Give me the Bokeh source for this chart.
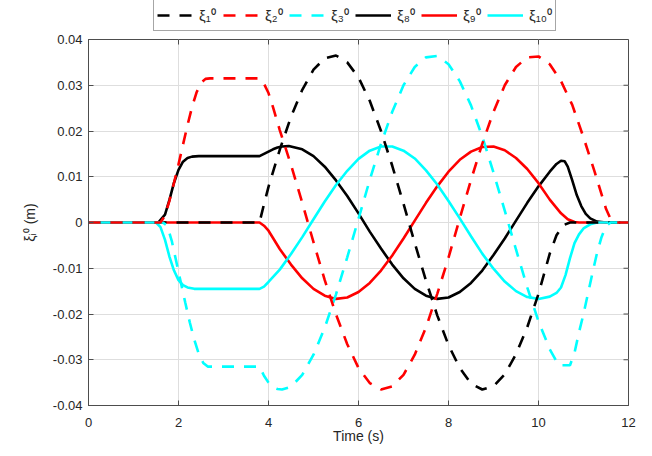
import math
from bokeh.plotting import figure
from bokeh.layouts import column
from bokeh.models import Legend, LegendItem, FixedTicker, Range1d
from bokeh.embed import file_html
from bokeh.resources import INLINE

# ---------------- data ----------------
xi1_t = [0, 3.8, 3.9, 4.0, 4.25, 4.5, 4.75, 5.0, 5.25, 5.5, 5.75, 6.0, 6.25, 6.5, 6.75, 7.0, 7.25, 7.5,
         7.75, 8.0, 8.25, 8.5, 8.75, 9.0, 9.25, 9.5, 9.75, 10.0, 10.25, 10.4, 10.55, 10.7, 12]
xi1_y = [0, 0, 0.0040, 0.0078, 0.0159, 0.0231, 0.0290, 0.0334, 0.0359, 0.0365, 0.0350, 0.0317, 0.0266,
         0.0200, 0.0124, 0.0041, -0.0045, -0.0127, -0.0203, -0.0268, -0.0318, -0.0352, -0.0365, -0.0358,
         -0.0332, -0.0288, -0.0229, -0.0156, -0.0068, -0.0028, -0.0006, 0, 0]

xi2_t = [0, 1.6, 1.7, 1.8, 1.9, 2.0, 2.1, 2.2, 2.3, 2.4, 2.5, 2.6, 2.7, 3.8, 3.9, 4.0, 4.1, 4.25, 4.5,
         4.75, 5.0, 5.25, 5.5, 5.75, 6.0, 6.25, 6.5, 6.75, 7.0, 7.25, 7.5, 7.75, 8.0, 8.25, 8.5, 8.75,
         9.0, 9.25, 9.5, 9.75, 10.0, 10.25, 10.5, 10.75, 11.0, 11.25, 11.5, 11.6, 11.7, 12]
xi2_y = [0, 0, 0.0015, 0.0048, 0.0087, 0.0127, 0.0170, 0.0213, 0.0252, 0.0284, 0.0305, 0.0314, 0.0315,
         0.0315, 0.0303, 0.0283, 0.0252, 0.0202, 0.0126, 0.0043, -0.0043, -0.0126, -0.0201, -0.0266,
         -0.0318, -0.0351, -0.0365, -0.0358, -0.0333, -0.0289, -0.0229, -0.0156, -0.0077, 0.0009,
         0.0093, 0.0172, 0.0242, 0.0300, 0.0340, 0.0361, 0.0363, 0.0346, 0.0309, 0.0257, 0.0186,
         0.0110, 0.0030, 0.0008, 0, 0]

xi3_t = [0, 1.65, 1.75, 1.85, 1.95, 2.05, 2.15, 2.25, 2.35, 2.45, 2.55, 2.65, 3.8, 3.9, 4.0, 4.1, 4.2,
         4.3, 4.5, 4.75, 5.0, 5.25, 5.5, 5.75, 6.0, 6.25, 6.5, 6.75, 7.0, 7.25, 7.5, 7.75, 8.0, 8.25,
         8.5, 8.75, 9.0, 9.25, 9.5, 9.75, 10.0, 10.25, 10.45, 10.7, 10.8, 10.9, 11.0, 11.1, 11.2, 11.3,
         11.4, 11.5, 11.6, 12]
xi3_y = [0, 0, -0.0007, -0.0040, -0.0085, -0.0130, -0.0175, -0.0218, -0.0256, -0.0287, -0.0307, -0.0315,
         -0.0315, -0.0335, -0.0350, -0.0360, -0.0364, -0.0365, -0.0359, -0.0333, -0.0289, -0.0230,
         -0.0157, -0.0076, 0.0008, 0.0093, 0.0172, 0.0242, 0.0300, 0.0340, 0.0361, 0.0364, 0.0346,
         0.0309, 0.0256, 0.0188, 0.0109, 0.0026, -0.0059, -0.0142, -0.0216, -0.0277, -0.0312, -0.0312,
         -0.0285, -0.0240, -0.0200, -0.0155, -0.0110, -0.0067, -0.0032, -0.0008, 0, 0]

xi8_t = [0, 1.55, 1.7, 1.8, 1.9, 2.0, 2.1, 2.2, 2.3, 2.45, 3.8, 3.9, 4.0, 4.1, 4.2, 4.3, 4.45, 4.75,
         5.0, 5.25, 5.5, 5.75, 6.0, 6.25, 6.5, 6.75, 7.0, 7.25, 7.5, 7.75, 8.0, 8.25, 8.5, 8.75, 9.0,
         9.25, 9.5, 9.75, 10.0, 10.25, 10.4, 10.5, 10.58, 10.65, 10.75, 10.85, 10.95, 11.05, 11.15,
         11.3, 11.5, 12]
xi8_y = [0, 0, 0.0017, 0.0050, 0.0087, 0.0115, 0.0133, 0.0141, 0.0144, 0.0145, 0.0145, 0.0150, 0.0155,
         0.0160, 0.0164, 0.0166, 0.0167, 0.0160, 0.0145, 0.0122, 0.0092, 0.0058, 0.0020, -0.0020,
         -0.0057, -0.0092, -0.0122, -0.0145, -0.0160, -0.0167, -0.0164, -0.0152, -0.0132, -0.0105,
         -0.0071, -0.0035, 0.0004, 0.0043, 0.0079, 0.0111, 0.0128, 0.0135, 0.0134, 0.0122, 0.0092,
         0.0060, 0.0036, 0.0019, 0.0009, 0.0002, 0, 0]

xi9_t = [0, 3.8, 3.9, 4.0, 4.1, 4.25, 4.5, 4.75, 5.0, 5.25, 5.5, 5.75, 6.0, 6.25, 6.5, 6.75, 7.0, 7.25,
         7.5, 7.75, 8.0, 8.25, 8.5, 8.75, 9.0, 9.25, 9.5, 9.75, 10.0, 10.25, 10.5, 10.65, 10.8, 10.9, 12]
xi9_y = [0, 0, -0.0007, -0.0018, -0.0034, -0.0058, -0.0092, -0.0122, -0.0145, -0.0160, -0.0167,
         -0.0164, -0.0152, -0.0132, -0.0105, -0.0072, -0.0035, 0.0004, 0.0043, 0.0079, 0.0111, 0.0137,
         0.0155, 0.0165, 0.0166, 0.0158, 0.0141, 0.0117, 0.0086, 0.0050, 0.0020, 0.0007, 0.0001, 0, 0]

xi10_t = [0, 1.5, 1.6, 1.7, 1.8, 1.9, 2.0, 2.1, 2.2, 2.35, 3.8, 3.9, 4.0, 4.25, 4.5, 4.75, 5.0, 5.25,
          5.5, 5.75, 6.0, 6.25, 6.5, 6.75, 7.0, 7.25, 7.5, 7.75, 8.0, 8.25, 8.5, 8.75, 9.0, 9.25, 9.5,
          9.75, 10.0, 10.25, 10.4, 10.5, 10.6, 10.7, 10.8, 10.9, 11.0, 11.15, 11.3, 12]
xi10_y = [0, 0, -0.0010, -0.0038, -0.0075, -0.0105, -0.0126, -0.0137, -0.0142, -0.0145, -0.0145,
          -0.0140, -0.0130, -0.0103, -0.0069, -0.0032, 0.0007, 0.0046, 0.0082, 0.0113, 0.0139, 0.0157,
          0.0166, 0.0166, 0.0157, 0.0140, 0.0114, 0.0083, 0.0047, 0.0009, -0.0030, -0.0068, -0.0101,
          -0.0129, -0.0150, -0.0163, -0.0167, -0.0162, -0.0154, -0.0142, -0.0115, -0.0078, -0.0045,
          -0.0026, -0.0013, -0.0004, 0, 0]

series_labels = ["ξ₁⁰", "ξ₂⁰", "ξ₃⁰", "ξ₈⁰", "ξ₉⁰", "ξ₁₀⁰"]
series_colors = ["black", "#ff0000", "#00ffff", "black", "#ff0000", "#00ffff"]
series_dashed = [True, True, True, False, False, False]
xtick_vals = [0, 2, 4, 6, 8, 10, 12]
xtick_labels = ["0", "2", "4", "6", "8", "10", "12"]
ytick_vals = [-0.04, -0.03, -0.02, -0.01, 0, 0.01, 0.02, 0.03, 0.04]
ytick_labels = ["-0.04", "-0.03", "-0.02", "-0.01", "0", "0.01", "0.02", "0.03", "0.04"]
x_lim = (0, 12)
y_lim = (-0.04, 0.04)
x_title = "Time (s)"
y_title = "ξᵢ⁰ (m)"

# ---------------- styling ----------------
FONT = "Liberation Sans"
AX = "#262626"
FRAME = "#4d4d4d"
LW = 2.6
DASH = "12 10"
W = 652
LEG_H = 32

# ---------------- main figure ----------------
p = figure(width=W, height=456 - LEG_H, output_backend="svg", toolbar_location=None,
           x_range=Range1d(*x_lim), y_range=Range1d(*y_lim),
           min_border_left=88, min_border_right=24, min_border_top=7, min_border_bottom=51)
p.background_fill_color = "white"
p.border_fill_color = "white"
p.outline_line_color = FRAME

xt = FixedTicker(ticks=xtick_vals, minor_ticks=[])
yt = FixedTicker(ticks=ytick_vals, minor_ticks=[])

p.xaxis.ticker = xt
p.yaxis.ticker = yt
p.xaxis.major_label_overrides = dict(zip(xtick_vals, xtick_labels))
p.yaxis.major_label_overrides = dict(zip(ytick_vals, ytick_labels))
for ax in (p.xaxis[0], p.yaxis[0]):
    ax.major_tick_in = 5
    ax.major_tick_out = 0
    ax.minor_tick_line_color = None
    ax.axis_line_color = FRAME
    ax.major_tick_line_color = FRAME
    ax.major_label_text_font = FONT
    ax.major_label_text_font_size = "13px"
    ax.major_label_text_color = AX
    ax.axis_label_text_font = FONT
    ax.axis_label_text_font_size = "14px"
    ax.axis_label_text_font_style = "normal"
    ax.axis_label_text_color = AX
p.xaxis.axis_label = x_title
p.yaxis.axis_label = y_title
p.xaxis.major_label_standoff = 12
p.xaxis.axis_label_standoff = -2
p.yaxis.major_label_standoff = 6
p.yaxis.axis_label_standoff = 12

p.xgrid.ticker = xt
p.ygrid.ticker = yt
p.xgrid.grid_line_color = "#dedede"
p.ygrid.grid_line_color = "#dedede"

# inward tick marks on the top and right edges of the box (5 px long)
p.ray(x=[x_lim[1]] * len(ytick_vals), y=ytick_vals, length=5, length_units="screen",
      angle=math.pi, line_color=FRAME, line_width=1)
p.ray(x=xtick_vals, y=[y_lim[1]] * len(xtick_vals), length=5, length_units="screen",
      angle=-math.pi / 2, line_color=FRAME, line_width=1)

p.line(xi8_t, xi8_y, line_color="black", line_width=LW)
p.line(xi9_t, xi9_y, line_color="#ff0000", line_width=LW)
p.line(xi10_t, xi10_y, line_color="#00ffff", line_width=LW)
p.line(xi1_t, xi1_y, line_color="black", line_width=LW, line_dash=DASH)
p.line(xi3_t, xi3_y, line_color="#00ffff", line_width=LW, line_dash=DASH)
p.line(xi2_t, xi2_y, line_color="#ff0000", line_width=LW, line_dash=DASH)

# ---------------- legend strip above the axes ----------------
lf = figure(width=W, height=LEG_H, output_backend="svg", toolbar_location=None,
            x_range=Range1d(0, 1), y_range=Range1d(0, 1),
            x_axis_type=None, y_axis_type=None, min_border=0)
lf.outline_line_color = None
lf.background_fill_color = "white"
lf.border_fill_color = "white"
lf.grid.visible = False
items = []
for lab, col, dashed in zip(series_labels, series_colors, series_dashed):
    # proxy line lying outside the strip's range: only its legend sample is seen
    r = lf.line([2, 3], [2, 3], line_color=col, line_width=LW,
                line_dash=(DASH if dashed else "solid"))
    items.append(LegendItem(label=lab, renderers=[r]))
legend = Legend(items=items, orientation="horizontal", location=(65, 1),
                glyph_width=36, glyph_height=20, label_height=24, label_standoff=6,
                spacing=4, padding=3, margin=0,
                label_text_font=FONT, label_text_font_size="15px", label_text_color=AX,
                border_line_color=FRAME, border_line_width=1,
                background_fill_color="white", background_fill_alpha=1.0)
lf.add_layout(legend)

layout = column(lf, p, spacing=0)
open("out.html", "w").write(file_html(layout, INLINE))
